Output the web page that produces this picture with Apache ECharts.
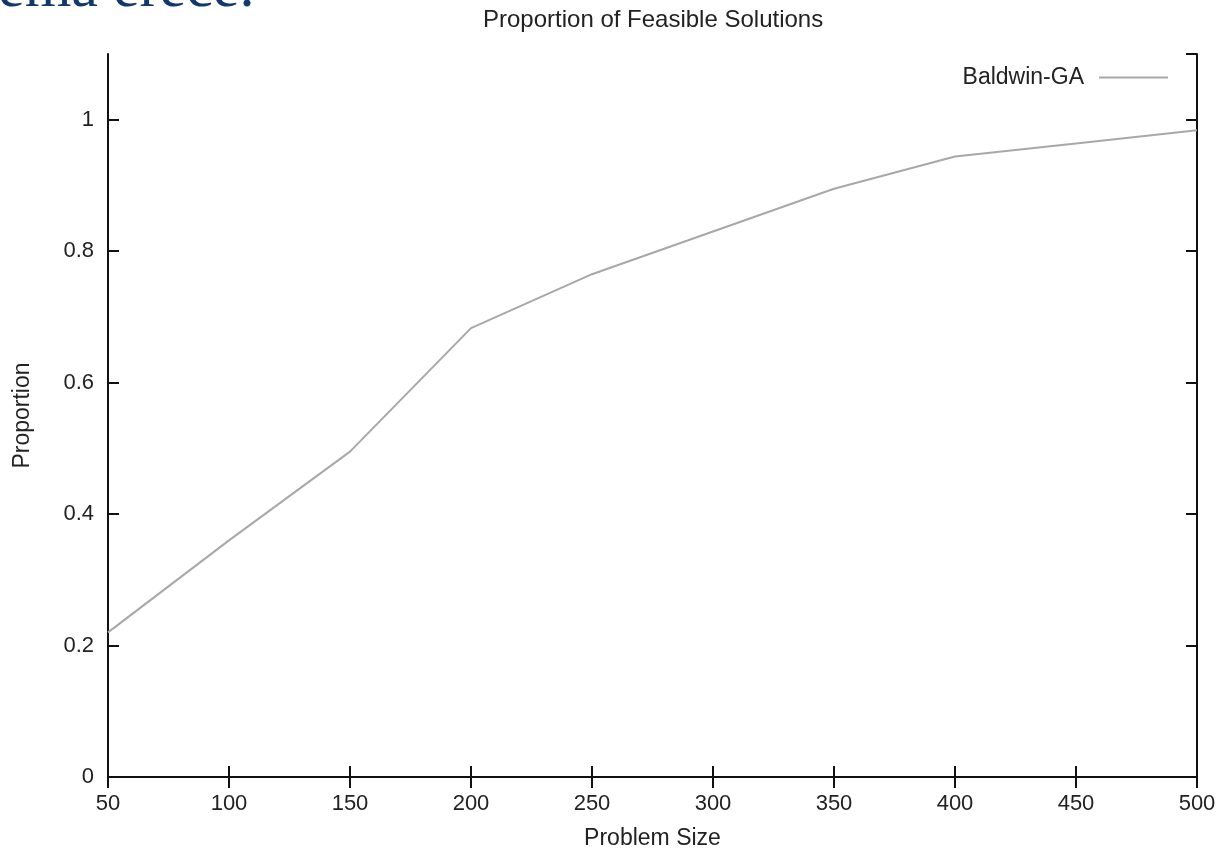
<!DOCTYPE html>
<html>
<head>
<meta charset="utf-8">
<script src="https://cdn.jsdelivr.net/npm/echarts@6/dist/echarts.min.js"></script>
<style>
html,body{margin:0;padding:0;background:#fff;}
#chart{width:1221px;height:848px;}
</style>
</head>
<body>
<div id="chart"></div>
<script>
const problemSizes = [50, 100, 150, 200, 250, 300, 350, 400, 450, 500];
const baldwinGA = [0.22, 0.36, 0.495, 0.683, 0.765, 0.83, 0.895, 0.944, 0.964, 0.984];
const seriesName = 'Baldwin-GA';
const titleText = 'Proportion of Feasible Solutions';
const xName = 'Problem Size';
const yName = 'Proportion';
const slideText = 'ema erece.';

const FONT = 'Liberation Sans';
const TXT = '#222';
const chart = echarts.init(document.getElementById('chart'), null, {renderer: 'canvas'});

const axisBase = {
  axisLine: {show: true, lineStyle: {color: '#111', width: 2}},
  axisTick: {show: true, inside: true, length: 11, lineStyle: {color: '#111', width: 2}},
  splitLine: {show: false}
};

chart.setOption({
  backgroundColor: '#fff',
  animation: false,
  title: {
    text: titleText,
    left: 483,
    top: 8,
    padding: 0,
    textStyle: {fontFamily: FONT, fontSize: 24, fontWeight: 'normal', color: TXT}
  },
  legend: {
    data: [{name: seriesName, icon: 'rect'}],
    right: 53,
    top: 66,
    padding: 0,
    align: 'right',
    itemWidth: 69,
    itemHeight: 2,
    textStyle: {fontFamily: FONT, fontSize: 23, color: TXT, padding: [0, 10, 0, 0]}
  },
  grid: {left: 108, right: 24, top: 54, bottom: 71, containLabel: false, outerBoundsMode: 'none'},
  xAxis: [
    Object.assign({}, axisBase, {
      type: 'value', min: 50, max: 500, interval: 50, position: 'bottom',
      name: xName, nameLocation: 'middle', nameGap: 50,
      nameTextStyle: {fontFamily: FONT, fontSize: 23, color: TXT},
      axisLabel: {fontFamily: FONT, fontSize: 22, color: TXT, margin: 16}
    }),
    Object.assign({}, axisBase, {
      type: 'value', min: 50, max: 500, interval: 50, position: 'top',
      axisLabel: {show: false}
    })
  ],
  yAxis: [
    Object.assign({}, axisBase, {
      type: 'value', min: 0, max: 1.1, interval: 0.2, position: 'left',
      name: yName, nameLocation: 'middle', nameGap: 74, nameRotate: 90,
      nameTextStyle: {fontFamily: FONT, fontSize: 23, color: TXT},
      axisLabel: {fontFamily: FONT, fontSize: 22, color: TXT, margin: 14, showMaxLabel: false}
    }),
    Object.assign({}, axisBase, {
      type: 'value', min: 0, max: 1.1, interval: 0.2, position: 'right',
      axisLabel: {show: false}
    })
  ],
  series: [{
    name: seriesName,
    type: 'line',
    xAxisIndex: 0,
    yAxisIndex: 0,
    data: problemSizes.map((x, i) => [x, baldwinGA[i]]),
    symbol: 'none',
    color: '#a8a8a8',
    lineStyle: {color: '#a8a8a8', width: 2},
    z: 3
  }],
  graphic: [{
    type: 'text',
    left: -2,
    top: -40,
    silent: true,
    style: {
      text: slideText,
      font: '60px "Liberation Serif"',
      fill: '#12386e'
    }
  }]
});
</script>
</body>
</html>
